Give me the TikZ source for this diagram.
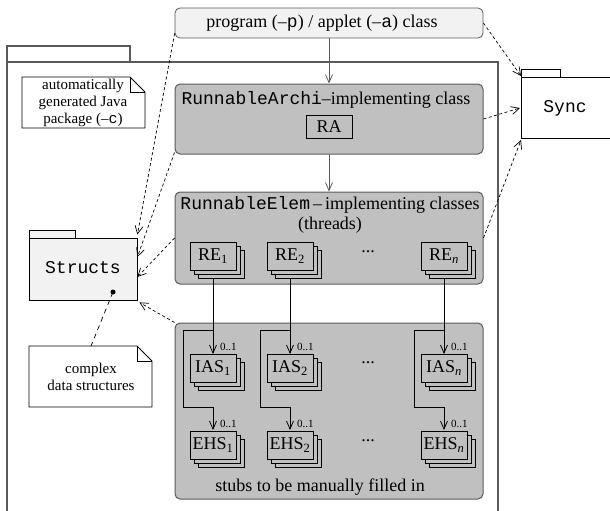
\documentclass[tikz,border=0pt]{standalone}
\usepackage{fontspec}
\setmainfont{Liberation Serif}
\setmonofont{Liberation Mono}
\usetikzlibrary{arrows.meta,calc}
\definecolor{boxgray}{RGB}{192,192,192}
\definecolor{lightgray}{RGB}{242,242,242}
\definecolor{framegray}{RGB}{90,90,90}
\tikzset{
  bigbox/.style={draw=framegray, line width=1pt, fill=boxgray, rounded corners=5pt, inner sep=0pt},
  sb/.style={draw=black, line width=0.7pt, fill=boxgray, inner sep=1pt},
  dep/.style={line width=0.7pt, dash pattern=on 3pt off 2.5pt, -{Straight Barb[length=8pt,width=8pt]}},
  arr/.style={line width=0.8pt, -{Straight Barb[length=8pt,width=7pt]}},
  pkg/.style={draw=framegray, line width=1.1pt},
  thin/.style={draw=black, line width=0.8pt},
  mult/.style={font=\fontsize{11}{12}\selectfont, inner sep=0pt, anchor=south west},
  notetext/.style={font=\fontsize{15}{17}\selectfont, align=center, inner sep=0pt}
}
\newcommand\stk[4]{%
  \draw[sb] ({#2-15},{#3-6}) rectangle ({#2+31},{#3+22});
  \draw[sb] ({#2-19},{#3-10}) rectangle ({#2+27},{#3+18});
  \node[sb, minimum width=46pt, minimum height=28pt] (#1) at (#2,#3) {#4};
}
\begin{document}
\begin{tikzpicture}[x=1pt,y=-1pt, font=\fontsize{18}{20}\selectfont]
\useasboundingbox (0,0) rectangle (610,511);

% big package
\draw[pkg] (7,511) -- (7,62) -- (498,62) -- (498,511);
\draw[pkg] (7,62) -- (7,46) -- (130,46) -- (130,62);

% top node
\node[draw=framegray, line width=0.8pt, fill=lightgray, rounded corners=5pt, minimum width=308pt, minimum height=30pt, inner sep=0pt] (top) at (329,23) {};
\node (toptext) at (322,23) {program (--\texttt{p}) / applet (--\texttt{a}) class};

% Sync package
\draw[thin, fill=white] (521,77) rectangle (560,69);
\draw[thin] (612,77) -- (521,77) -- (521,138) -- (612,138);
\node (sync) at (565,108) {\texttt{Sync}};
\coordinate (syncA) at (521,76);
\coordinate (syncB) at (520,108);
\coordinate (syncC) at (521,140);

% note 1
\draw[thin, fill=white] (22,77) -- (130,77) -- (145,92) -- (145,128) -- (22,128) -- cycle;
\draw[thin] (130,77) -- (130,92) -- (145,92);
\node[notetext] (note1) at (83,103) {automatically\\generated Java\\package (--\texttt{c})};

% RunnableArchi box
\node[bigbox, minimum width=308pt, minimum height=70pt] (ra) at (329,119) {};
\node (ratitle) at (326,100) {\texttt{RunnableArchi}--implementing class};
\node[sb, minimum width=46pt, minimum height=23pt] (rain) at (329,126.5) {RA};

% RunnableElem box
\node[bigbox, minimum width=308pt, minimum height=92pt] (reb) at (329,238) {};
\node[align=center, inner sep=0pt] (retitle) at (330,215) {\texttt{RunnableElem}\,--\,implementing classes\\(threads)};

% Stubs box
\node[bigbox, minimum width=308pt, minimum height=176pt] (stubs) at (329,411) {};
\node (stubtext) at (320,487) {stubs to be manually filled in};

% column connectors
\foreach \c/\n in {213/1, 290/2, 444/n} {
  \draw[arr] (\c,277) -- (\c,354);
  \draw[arr] (\c,330) -- ({\c-30},330) -- ({\c-30},407) -- (\c,407) -- (\c,430);
}

% stacks
\stk{re1}{213}{256}{RE\textsubscript{1}}
\stk{re2}{290}{256}{RE\textsubscript{2}}
\stk{ren}{444}{256}{RE\textsubscript{\textit{n}}}
\stk{ias1}{213}{368}{IAS\textsubscript{1}}
\stk{ias2}{290}{368}{IAS\textsubscript{2}}
\stk{iasn}{444}{368}{IAS\textsubscript{\textit{n}}}
\stk{ehs1}{213}{445}{EHS\textsubscript{1}}
\stk{ehs2}{290}{445}{EHS\textsubscript{2}}
\stk{ehsn}{444}{445}{EHS\textsubscript{\textit{n}}}

\foreach \b in {ias1,ias2,iasn,ehs1,ehs2,ehsn} {
  \node[mult] at ([xshift=7pt,yshift=3pt]\b.north) {0..1};
}
\node (dots1) at (368,252) {...};
\node (dots2) at (368,363) {...};
\node (dots3) at (368,441) {...};

% solid arrows
\draw[arr, draw=framegray] (top.south) -- (ra.north);
\draw[arr, draw=framegray] (ra.south) -- (reb.north);

% Structs package
\draw[thin, fill=lightgray] (29,238) rectangle (75,230);
\node[draw=black, line width=0.8pt, fill=lightgray, minimum width=108pt, minimum height=62pt, inner sep=0pt] (structs) at (83,269) {};
\node (structstext) at (83,268) {\texttt{Structs}};
\fill (113,292) circle (2.5);
\coordinate (dot) at (113,292);

% note 2
\draw[thin, fill=white] (29,346) -- (137,346) -- (152,361) -- (152,407) -- (29,407) -- cycle;
\draw[thin] (137,346) -- (137,361) -- (152,361);
\node[notetext] (note2) at (91,377) {complex\\data structures};
\coordinate (n2top) at (91,346);
\draw[line width=0.7pt, dash pattern=on 5pt off 4pt] (dot) -- (n2top);

% dependency arrows
\draw[dep] ([yshift=5pt]top.south west) -- ([yshift=3pt]structs.north east);
\draw[dep] ([yshift=2pt]ra.south west) -- ([yshift=12pt]structs.east);
\draw[dep] (reb.west) -- ([yshift=-8pt]structs.east);
\draw[dep] (stubs.north west) -- ([xshift=2pt,yshift=-2pt]structs.south east);
\draw[dep] (top.east) -- (syncA);
\draw[dep] (ra.east) -- (syncB);
\draw[dep] (reb.east) -- (syncC);
\end{tikzpicture}
\end{document}
